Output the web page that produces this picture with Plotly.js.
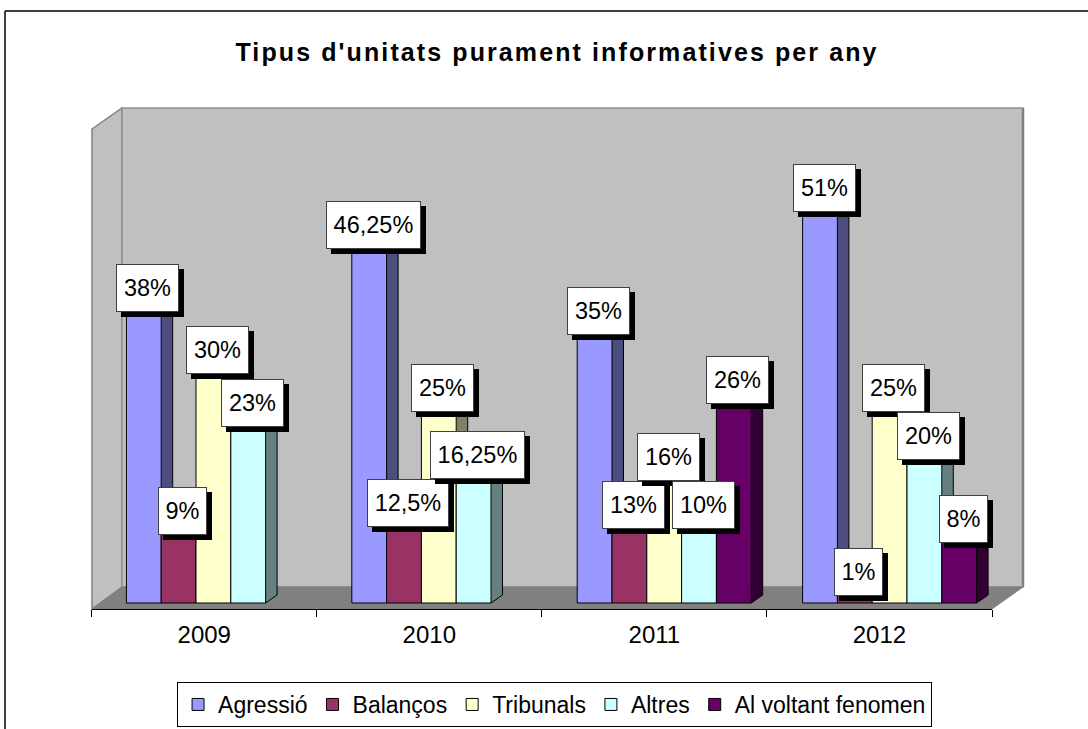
<!DOCTYPE html>
<html>
<head>
<meta charset="utf-8">
<script src="https://cdn.plot.ly/plotly-3.0.1.min.js"></script>
<style>
  html, body { margin: 0; padding: 0; background: #fff; }
  #chart { width: 1088px; height: 729px; }
  #chart .gtitle { letter-spacing: 2.1px; }
</style>
</head>
<body>
<div id="chart"></div>
<script>
// ---- data ----
const years = ['2009', '2010', '2011', '2012'];
const seriesNames = ['Agressió', 'Balanços', 'Tribunals', 'Altres', 'Al voltant fenomen'];
const agressio  = [38, 46.25, 35, 51];
const balancos  = [9, 12.5, 13, 1];
const tribunals = [30, 25, 16, 25];
const altres    = [23, 16.25, 10, 20];
const alVoltant = [null, null, 26, 8];
const seriesValues = [agressio, balancos, tribunals, altres, alVoltant];

// ---- style ----
const frontColors = ['#9999FF', '#993366', '#FFFFCC', '#CCFFFF', '#660066'];
const sideColors  = ['#4D4D80', '#4D1A33', '#808066', '#668080', '#330033'];
const FONT = 'Arial, "Liberation Sans", sans-serif';
const LABEL_SIZE = 23.5;
const W = 1088, H = 729;

// pixel scale of the (full-figure) plot area
const X0PX = 213.4, PX_PER_X = 225.4;   // category centre / spacing
const Y0PX = 603,   PX_PER_Y = 7.68;    // floor level / px per percent
const xRange = [-X0PX / PX_PER_X, (W - X0PX) / PX_PER_X];
const yRange = [-(H - Y0PX) / PX_PER_Y, Y0PX / PX_PER_Y];
const barW = 34.8 / PX_PER_X;
const depthX = 11.5 / PX_PER_X, depthY = 8 / PX_PER_Y;

const px = x => x / W;          // pixel -> paper
const py = y => 1 - y / H;

const nSeries = seriesNames.length;
const catIdx = years.map((_, i) => i);
const offsetOf = j => (j - nSeries / 2) * barW;
const has = v => v !== null && v !== undefined;

const traces = [];

// side and top faces (main subplot, behind the front faces)
seriesValues.forEach((vals, j) => {
  const xs = [], ys = [], tx = [], ty = [];
  vals.forEach((v, i) => {
    if (!has(v)) return;
    const xl = i + offsetOf(j), xr = xl + barW;
    xs.push(xr, xr + depthX, xr + depthX, xr, null);
    ys.push(0, depthY, v + depthY, v, null);
    tx.push(xl, xl + depthX, xr + depthX, xr, null);
    ty.push(v, v + depthY, v + depthY, v, null);
  });
  traces.push({
    type: 'scatter', mode: 'lines', x: xs, y: ys, fill: 'toself',
    fillcolor: sideColors[j], line: {color: '#000', width: 1},
    xaxis: 'x', yaxis: 'y', showlegend: false, hoverinfo: 'skip'
  });
  traces.push({
    type: 'scatter', mode: 'lines', x: tx, y: ty, fill: 'toself',
    fillcolor: frontColors[j], line: {color: '#000', width: 1},
    xaxis: 'x', yaxis: 'y', showlegend: false, hoverinfo: 'skip'
  });
});

// front faces (overlay subplot, in front)
seriesValues.forEach((vals, j) => {
  traces.push({
    type: 'bar', name: seriesNames[j], x: catIdx, y: vals,
    offset: offsetOf(j), width: barW,
    marker: {color: frontColors[j], line: {color: '#000', width: 1}},
    xaxis: 'x2', yaxis: 'y2', hoverinfo: 'skip'
  });
});

// dummy trace for the category axis
traces.push({type: 'scatter', x: [], y: [], xaxis: 'x3', yaxis: 'y', showlegend: false, hoverinfo: 'skip'});

// ---- data labels (white box with black drop shadow), simple collision avoidance ----
const fmt = v => String(v).replace('.', ',') + '%';
const ctx = document.createElement('canvas').getContext('2d');
ctx.font = LABEL_SIZE + 'px "Liberation Sans", Arial, sans-serif';
const PAD = 6, TEXT_H = 34, BOX_H = TEXT_H + 2 * PAD + 2, LIFT = 23, XSHIFT = 4;
const labels = [];
catIdx.forEach(i => {
  const items = [];
  seriesValues.forEach((vals, j) => {
    const v = vals[i];
    if (!has(v)) return;
    const text = fmt(v);
    const xc = i + offsetOf(j) + barW / 2;
    const cx = X0PX + xc * PX_PER_X + XSHIFT;
    const tw = Math.ceil(ctx.measureText(text).width) + 1;
    const w = tw + 2 * PAD + 2;
    const cy = Y0PX - v * PX_PER_Y - LIFT;
    items.push({j, v, text, tw, xc, x0: cx - w / 2, x1: cx + w / 2, cy});
  });
  items.sort((a, b) => b.v - a.v);
  const placed = [];
  items.forEach(it => {
    let moved = true;
    while (moved) {
      moved = false;
      for (const p of placed) {
        const xo = it.x0 < p.x1 && it.x1 > p.x0;
        const yo = Math.abs(it.cy - p.cy) < BOX_H;
        if (xo && yo) { it.cy = p.cy + BOX_H; moved = true; }
      }
    }
    placed.push(it);
  });
  placed.sort((a, b) => a.j - b.j).forEach(it => labels.push(it));
});

const annotations = [];
labels.forEach(it => {
  const yshift = Y0PX - it.v * PX_PER_Y - it.cy;
  const common = {
    xref: 'x2', yref: 'y2', x: it.xc, y: it.v, showarrow: false,
    width: it.tw, height: TEXT_H, borderpad: PAD, borderwidth: 1,
    yanchor: 'middle', xanchor: 'center', align: 'center'
  };
  // drop shadow (blank box)
  annotations.push(Object.assign({}, common, {
    text: ' ', xshift: XSHIFT + 5, yshift: yshift - 5, bgcolor: '#000', bordercolor: '#000',
    font: {family: FONT, size: LABEL_SIZE, color: '#000'}
  }));
  annotations.push(Object.assign({}, common, {
    text: it.text, xshift: XSHIFT, yshift: yshift, bgcolor: '#fff', bordercolor: '#404040',
    font: {family: FONT, size: LABEL_SIZE, color: '#000'}
  }));
});

// walls, floor, outer border
const path = pts => 'M' + pts.map(p => px(p[0]) + ',' + py(p[1])).join('L') + 'Z';
const shapes = [
  {type: 'path', xref: 'paper', yref: 'paper', layer: 'below',
   path: path([[92,129],[122,108],[122,587],[92,609]]),
   fillcolor: '#C0C0C0', line: {color: '#808080', width: 1.5}},
  {type: 'rect', xref: 'paper', yref: 'paper', layer: 'below',
   x0: px(122), x1: px(1023), y0: py(587), y1: py(108),
   fillcolor: '#C0C0C0', line: {color: '#909090', width: 1.5}},
  {type: 'line', xref: 'paper', yref: 'paper', layer: 'below',
   x0: px(1023), x1: px(1023), y0: py(587), y1: py(108),
   line: {color: '#808080', width: 2.5}},
  {type: 'path', xref: 'paper', yref: 'paper', layer: 'below',
   path: path([[92,609],[122,587],[1023,587],[992,609]]),
   fillcolor: '#808080', line: {color: '#808080', width: 1}},
  {type: 'line', xref: 'paper', yref: 'paper', x0: px(5), x1: px(1100), y0: py(11), y1: py(11),
   line: {color: '#000', width: 1.5}},
  {type: 'line', xref: 'paper', yref: 'paper', x0: px(5), x1: px(5), y0: py(11), y1: py(740),
   line: {color: '#000', width: 1.5}}
];

const hidden = {visible: false, fixedrange: true, showgrid: false, zeroline: false};
const layout = {
  width: W, height: H, autosize: false,
  margin: {l: 0, r: 0, t: 0, b: 0, pad: 0},
  paper_bgcolor: '#fff', plot_bgcolor: 'rgba(0,0,0,0)',
  barmode: 'overlay', hovermode: false,
  font: {family: FONT, color: '#000'},
  title: {text: "<b>Tipus d'unitats purament informatives per any</b>",
          font: {family: FONT, size: 25, color: '#000'},
          x: px(557), xanchor: 'center', y: py(52), yanchor: 'middle'},
  xaxis:  Object.assign({range: xRange}, hidden),
  yaxis:  Object.assign({range: yRange}, hidden),
  xaxis2: Object.assign({range: xRange, overlaying: 'x', anchor: 'y2'}, hidden),
  yaxis2: Object.assign({range: yRange, overlaying: 'y', anchor: 'x2'}, hidden),
  xaxis3: {
    domain: [px(91.7), px(992)], range: [-0.5, years.length - 0.5],
    anchor: 'free', position: py(609), fixedrange: true,
    showline: true, linecolor: '#000', linewidth: 1,
    showgrid: false, zeroline: false,
    tickmode: 'array', tickvals: catIdx, ticktext: years, ticks: '',
    ticklabelstandoff: 4,
    tickfont: {family: FONT, size: 24, color: '#000'},
    minor: {tickmode: 'array', tickvals: catIdx.concat([years.length]).map(i => i - 0.5),
            ticks: 'outside', ticklen: 7, tickwidth: 1, tickcolor: '#000', showgrid: false}
  },
  legend: {orientation: 'h', x: 0.5097, xanchor: 'center', y: py(682), yanchor: 'top',
           bordercolor: '#000', borderwidth: 1, bgcolor: '#fff',
           font: {family: FONT, size: 23, color: '#000'}, traceorder: 'normal'},
  shapes: shapes,
  annotations: annotations
};

Plotly.newPlot('chart', traces, layout, {displayModeBar: false, staticPlot: true});
</script>
</body>
</html>
